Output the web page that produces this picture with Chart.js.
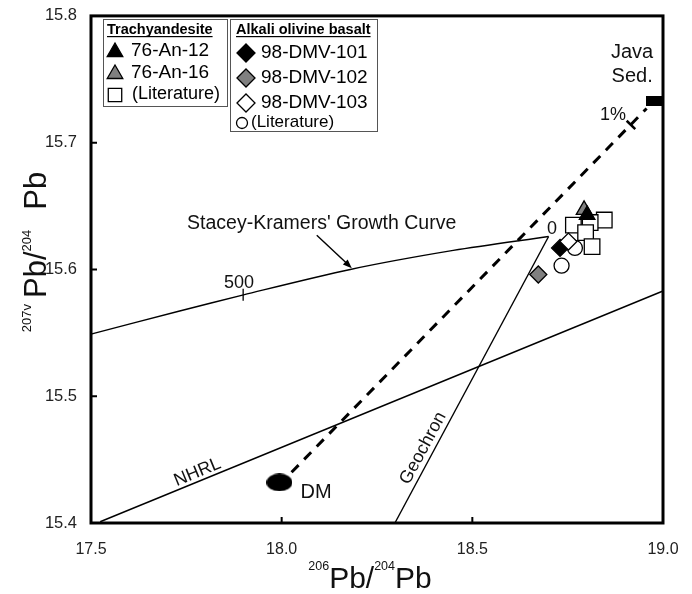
<!DOCTYPE html>
<html>
<head>
<meta charset="utf-8">
<script src="https://cdn.jsdelivr.net/npm/chart.js@4.4.0/dist/chart.umd.min.js"></script>
<style>
  html, body { margin: 0; padding: 0; background: #fff; }
  #wrap { width: 692px; height: 594px; }
</style>
</head>
<body>
<div id="wrap"><canvas id="pb-chart"></canvas></div>
<script>
// sample points (206Pb/204Pb, 207Pb/204Pb)
const an12 = [{ x: 18.801, y: 15.643 }];
const an16 = [{ x: 18.793, y: 15.647 }];
const trachyLit = [
    { x: 18.765, y: 15.635 }, { x: 18.846, y: 15.639 }, { x: 18.809, y: 15.637 },
    { x: 18.797, y: 15.629 }, { x: 18.814, y: 15.618 }
];
const dmv101 = [{ x: 18.730, y: 15.617 }];
const dmv102 = [{ x: 18.673, y: 15.596 }];
const dmv103 = [{ x: 18.752, y: 15.622 }];
const basaltLit = [{ x: 18.769, y: 15.617 }, { x: 18.734, y: 15.603 }];

// end members and reference lines
const dmPoint = [{ x: 17.994, y: 15.432 }];
const javaSed = [{ x: 18.977, y: 15.733 }];
const mixingLine = [{ x: 18.026, y: 15.440 }, { x: 18.957, y: 15.727 }];
const onePercent = [{ x: 18.916, y: 15.714 }];
const growthCurve = [
    { x: 17.50, y: 15.549 }, { x: 17.73, y: 15.567 }, { x: 17.90, y: 15.580 },
    { x: 18.18, y: 15.600 }, { x: 18.45, y: 15.615 }, { x: 18.70, y: 15.626 }
];
const growth500 = [{ x: 17.899, y: 15.580 }];
const geochron = [{ x: 18.297, y: 15.400 }, { x: 18.700, y: 15.626 }];
const nhrl = [{ x: 17.524, y: 15.401 }, { x: 19.000, y: 15.583 }];

const xTicks = [17.5, 18.0, 18.5, 19.0];
const yTicks = [15.4, 15.5, 15.6, 15.7, 15.8];

const FONT = '"Liberation Sans", Arial, Helvetica, sans-serif';
const GRAY = '#808080';

function makeShape(w, h, draw) {
    const c = document.createElement('canvas');
    c.width = w;
    c.height = h;
    draw(c.getContext('2d'), w, h);
    return c;
}
const dmShape = makeShape(26, 18, (ctx, w, h) => {
    ctx.fillStyle = '#000';
    ctx.beginPath();
    ctx.ellipse(w / 2, h / 2, w / 2, h / 2, 0, 0, Math.PI * 2);
    ctx.fill();
});
const javaShape = makeShape(16, 10, (ctx, w, h) => {
    ctx.fillStyle = '#000';
    ctx.fillRect(0, 0, w, h);
});

function marker(data, style, fill, radius, order) {
    return {
        data: data, pointStyle: style, backgroundColor: fill, borderColor: '#000',
        borderWidth: 1.3, pointRadius: radius, pointHoverRadius: radius,
        showLine: false, clip: false, order: order
    };
}
function line(data, width, dash, tension) {
    return {
        data: data, showLine: true, borderColor: '#000', borderWidth: width,
        borderDash: dash, pointRadius: 0, pointHoverRadius: 0, tension: tension || 0,
        fill: false, clip: false, order: 20
    };
}

const datasets = [
    line(growthCurve, 1.4, [], 0.3),
    line(geochron, 1.4, []),
    line(nhrl, 1.4, []),
    line(mixingLine, 3, [10, 8]),
    { data: onePercent, pointStyle: 'line', rotation: 44, borderColor: '#000', borderWidth: 2.5,
      pointRadius: 6, showLine: false, order: 19 },
    { data: growth500, pointStyle: 'line', rotation: 90, borderColor: '#000', borderWidth: 1.3,
      pointRadius: 6, showLine: false, order: 19 },
    { data: dmPoint, pointStyle: dmShape, pointRadius: 10, showLine: false, clip: false, order: 18 },
    { data: javaSed, pointStyle: javaShape, pointRadius: 8, showLine: false, clip: false, order: 18 },
    marker(trachyLit, 'rect', '#fff', 11, 9),
    marker(basaltLit, 'circle', '#fff', 7.5, 8),
    marker(dmv102, 'rectRot', GRAY, 8.5, 7),
    marker(dmv101, 'rectRot', '#000', 8.5, 6),
    marker(dmv103, 'rectRot', '#fff', 8.5, 5),
    marker(an16, 'triangle', GRAY, 9, 4),
    marker(an12, 'triangle', '#000', 9, 3)
];

// labels placed in data units
const notes = [
    { text: "Stacey-Kramers' Growth Curve", x: 17.752, y: 15.636, size: 19.5, align: 'left', rot: 0 },
    { text: '500', x: 17.888, y: 15.589, size: 18, align: 'center', rot: 0 },
    { text: '0', x: 18.709, y: 15.632, size: 18, align: 'center', rot: 0 },
    { text: 'NHRL', x: 17.779, y: 15.440, size: 18, align: 'center', rot: -22.4 },
    { text: 'Geochron', x: 18.371, y: 15.459, size: 18, align: 'center', rot: -61.8 },
    { text: 'DM', x: 18.090, y: 15.424, size: 20, align: 'center', rot: 0 },
    { text: '1%', x: 18.869, y: 15.722, size: 18, align: 'center', rot: 0 },
    { text: 'Java', x: 18.919, y: 15.771, size: 20, align: 'center', rot: 0 },
    { text: 'Sed.', x: 18.919, y: 15.752, size: 20, align: 'center', rot: 0 }
];
const arrowFrom = { x: 18.092, y: 15.627 };
const arrowTo = { x: 18.184, y: 15.601 };

function drawShape(ctx, style, fill, r, x, y) {
    ctx.save();
    ctx.fillStyle = fill;
    ctx.strokeStyle = '#000';
    ctx.lineWidth = 1.3;
    Chart.helpers.drawPoint(ctx, { pointStyle: style, radius: r, borderWidth: 1.3, rotation: 0 }, x, y);
    ctx.restore();
}

// parts: [text, size, raise, gapAfter]
function drawSupText(ctx, parts, x, y) {
    let cx = x;
    parts.forEach(p => {
        ctx.font = p[1] + 'px ' + FONT;
        ctx.fillText(p[0], cx, y - p[2]);
        cx += ctx.measureText(p[0]).width + (p[3] || 0);
    });
}
function measureSup(ctx, parts) {
    let w = 0;
    parts.forEach(p => {
        ctx.font = p[1] + 'px ' + FONT;
        w += ctx.measureText(p[0]).width + (p[3] || 0);
    });
    return w;
}

const decorPlugin = {
    id: 'decor',
    afterDraw(chart) {
        const ctx = chart.ctx;
        const xs = chart.scales.x, ys = chart.scales.y;
        const a = chart.chartArea;
        ctx.save();

        // inward ticks on left and bottom
        ctx.strokeStyle = '#000';
        ctx.lineWidth = 2;
        ctx.beginPath();
        xs.ticks.forEach(t => {
            const px = xs.getPixelForValue(t.value);
            if (px > a.left + 2 && px < a.right - 2) { ctx.moveTo(px, a.bottom); ctx.lineTo(px, a.bottom - 6); }
        });
        ys.ticks.forEach(t => {
            const py = ys.getPixelForValue(t.value);
            if (py > a.top + 2 && py < a.bottom - 2) { ctx.moveTo(a.left, py); ctx.lineTo(a.left + 6, py); }
        });
        ctx.stroke();

        // frame
        ctx.lineWidth = 3;
        ctx.strokeRect(a.left, a.top, a.right - a.left, a.bottom - a.top);

        // annotations
        ctx.fillStyle = '#111';
        ctx.textBaseline = 'middle';
        notes.forEach(n => {
            ctx.save();
            ctx.translate(xs.getPixelForValue(n.x), ys.getPixelForValue(n.y));
            ctx.rotate(n.rot * Math.PI / 180);
            ctx.font = n.size + 'px ' + FONT;
            ctx.textAlign = n.align;
            ctx.fillText(n.text, 0, 0);
            ctx.restore();
        });

        // arrow to growth curve
        const ax0 = xs.getPixelForValue(arrowFrom.x), ay0 = ys.getPixelForValue(arrowFrom.y);
        const ax1 = xs.getPixelForValue(arrowTo.x), ay1 = ys.getPixelForValue(arrowTo.y);
        const ang = Math.atan2(ay1 - ay0, ax1 - ax0);
        ctx.lineWidth = 1.4;
        ctx.beginPath();
        ctx.moveTo(ax0, ay0);
        ctx.lineTo(ax1 - 6 * Math.cos(ang), ay1 - 6 * Math.sin(ang));
        ctx.stroke();
        ctx.fillStyle = '#000';
        ctx.beginPath();
        ctx.moveTo(ax1, ay1);
        ctx.lineTo(ax1 - 9 * Math.cos(ang) + 3.5 * Math.sin(ang), ay1 - 9 * Math.sin(ang) - 3.5 * Math.cos(ang));
        ctx.lineTo(ax1 - 9 * Math.cos(ang) - 3.5 * Math.sin(ang), ay1 - 9 * Math.sin(ang) + 3.5 * Math.cos(ang));
        ctx.closePath();
        ctx.fill();

        // legend boxes
        ctx.strokeStyle = '#555';
        ctx.lineWidth = 1;
        ctx.strokeRect(103.5, 19.5, 124, 87);
        ctx.strokeRect(230.5, 19.5, 147, 112);
        ctx.fillStyle = '#000';
        ctx.textAlign = 'left';
        ctx.textBaseline = 'alphabetic';
        ctx.font = 'bold 14.5px ' + FONT;
        ctx.fillText('Trachyandesite', 107, 34);
        let w = ctx.measureText('Trachyandesite').width;
        ctx.fillRect(107, 36, w, 1.2);
        ctx.fillText('Alkali olivine basalt', 236, 34);
        w = ctx.measureText('Alkali olivine basalt').width;
        ctx.fillRect(236, 36, w, 1.2);

        ctx.textBaseline = 'middle';
        ctx.font = '19px ' + FONT;
        drawShape(ctx, 'triangle', '#000', 9, 115, 52);
        ctx.fillText('76-An-12', 131, 51);
        drawShape(ctx, 'triangle', GRAY, 9, 115, 74);
        ctx.fillText('76-An-16', 131, 73);
        drawShape(ctx, 'rect', '#fff', 9.5, 115, 95);
        ctx.font = '18px ' + FONT;
        ctx.fillText('(Literature)', 132, 94);

        ctx.font = '19px ' + FONT;
        drawShape(ctx, 'rectRot', '#000', 9, 246, 53);
        ctx.fillText('98-DMV-101', 261, 53);
        drawShape(ctx, 'rectRot', GRAY, 9, 246, 78);
        ctx.fillText('98-DMV-102', 261, 78);
        drawShape(ctx, 'rectRot', '#fff', 9, 246, 103);
        ctx.fillText('98-DMV-103', 261, 103);
        drawShape(ctx, 'circle', '#fff', 5.5, 242, 123);
        ctx.font = '17px ' + FONT;
        ctx.fillText('(Literature)', 251, 122);

        // axis titles
        ctx.fillStyle = '#111';
        ctx.textBaseline = 'alphabetic';
        const xt = [['206', 12.5, 18], ['Pb/', 30, 0], ['204', 12.5, 18], ['Pb', 30, 0]];
        const xw = measureSup(ctx, xt);
        drawSupText(ctx, xt, 370 - xw / 2, 588);

        const yt = [['207v', 13, 15, 6], ['Pb/', 31, 0], ['204', 13, 15, 20], ['Pb', 31, 0]];
        const yw = measureSup(ctx, yt);
        ctx.save();
        ctx.translate(45.5, 252);
        ctx.rotate(-Math.PI / 2);
        drawSupText(ctx, yt, -yw / 2, 0);
        ctx.restore();

        ctx.restore();
    }
};

const chart = new Chart(document.getElementById('pb-chart').getContext('2d'), {
    type: 'scatter',
    data: { datasets: datasets },
    options: {
        responsive: true,
        maintainAspectRatio: false,
        animation: false,
        layout: { padding: { top: 12, right: 29, left: 0, bottom: 0 } },
        plugins: { legend: { display: false }, tooltip: { enabled: false } },
        scales: {
            x: {
                type: 'linear', min: xTicks[0], max: xTicks[xTicks.length - 1],
                afterBuildTicks: s => { s.ticks = xTicks.map(v => ({ value: v })); },
                afterFit: s => { s.height = 71; },
                grid: { display: false }, border: { display: false },
                ticks: { padding: 9, color: '#222', font: { size: 16, family: FONT },
                         maxRotation: 0, autoSkip: false, callback: v => Number(v).toFixed(1) }
            },
            y: {
                type: 'linear', min: yTicks[0], max: yTicks[yTicks.length - 1],
                afterBuildTicks: s => { s.ticks = yTicks.map(v => ({ value: v })); },
                afterFit: s => { s.width = 91; },
                grid: { display: false }, border: { display: false },
                ticks: { padding: 6, color: '#222', font: { size: 16.5, family: FONT },
                         autoSkip: false, callback: v => Number(v).toFixed(1) }
            }
        }
    },
    plugins: [decorPlugin]
});
</script>
</body>
</html>
